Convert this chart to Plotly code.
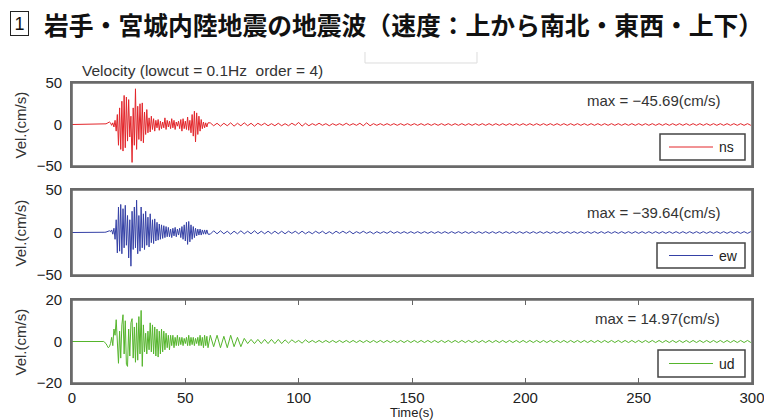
import numpy as np
import plotly.graph_objects as go

# ---------------- data ----------------
x_tickvals = [0, 50, 100, 150, 200, 250, 300]
y_ticks_vel = [-50, 0, 50]
y_ticks_ud = [-20, 0, 20]

quiet_t = [0.0, 5.0, 10.0]
ns_quiet = [0.0, 0.2, -0.2]
ew_quiet = [0.0, -0.2, 0.2]
ud_quiet = [0.0, 0.1, -0.1]

main_t0, main_dt = 14.0, 0.5
ns_main = [0, 0.3, 0.8, 1.5, 2.5, 3, 2, -1, 2, -3,
           5, -8, 12, -25, 20, -30, 28, -32, 35, -28,
           33, -20, 30, -15, 10, -45.69, 20, -25, 43, -30,
           22, -18, 25, -20, 26, -22, 15, -12, 18, -10,
           8, -9, 10, -6, 7, -8, 5, -4, 6, -7,
           4, -5, 3, -4, 8, -6, 5, -3, 4, -5,
           7, -4, 5, -6, 3, -2, 4, -5, 6, -8,
           7, -5, 4, -6, 9, -7, 5, -10, 12, -14,
           16, -21, 14, -12, 10, -8, 6, -5, 3, -4,
           2, -3, 2]
ew_main = [0, 0.3, 0.5, 1, 1.5, 2, 1, 3, -2, 5,
           -8, 15, -24, 30, -22, 33, -25, 28, -18, 32,
           -15, 20, -30, 15, -39.64, 25, -20, 30, -18, 38,
           -25, 20, -22, 30, -18, 22, -20, 25, -15, 18,
           -17, 22, -12, 15, -13, 16, -10, 12, -9, 10,
           -8, 9, -7, 8, -6, 7, -5, 6, -5, 4,
           -6, 5, -4, 6, -5, 4, -3, 5, -6, 7,
           -8, 9, -10, 12, -14, 13, -11, 9, -8, 7,
           -6, 5, -4, 4, -3, 4, -3, 3, -2, 3,
           -2, 3, -2]
ud_main = [0, -0.5, -1, -2, -3, -2.5, -1, 2, -2, 6,
           3, 10.5, -5, -10.5, 5, -8, 8, 12.9, -6, 10,
           -11, -12, 6, -7, 9, 11, -8, 7, -10, 9,
           -9, 12, -6, 14.97, -12, 8, -5, 4, -6, 5,
           -4, 9, -5, 8, -6, 7, -7, 6, -7.5, 5,
           -6, 6, -5, 5, -4, 4, -3, 3, -4, 3,
           -2, 3, -3, 2, -2, 3, -2, 2, -1.5, 2,
           -2, 1.5, -1, 2, -2, 3, -2, 2, -1.5, 2,
           -2, 1.5, -1, 2, -2, 3, -2, 2, -3, 3,
           -2, 2.5, -3]

tail_t0, tail_dt = 61.0, 1.5
ns_tail = [2, -1.5, 1.5, -2, 1.5, -1.5, 2, -2, 1.5, -1.5,
           2, -1.5, 1.5, -2, 1.5, -1, 1.5, -1.5, 1, -1.5,
           1.5, -1.5, 1, -1.5, 1.5, -1, 2.5, -2, 1.5, -1.5,
           1, -1, 1.5, -1, 1, -1.5, 1, -1, 1, -1,
           1.5, -1, 1, -1, 1.5, -1.5, 2, -1.5, 1, -1,
           1, -1, 1, -1, 1, -1, 1, -1, 1, -1,
           1, -1, 1, -1, 1, -1, 1, -1, 1, -1,
           1, -1, 1, -1, 1, -1, 1, -1, 1, -1,
           1, -1, 1, -1, 1, -1, 1, -1, 1, -1,
           1, -1, 1, -1, 1, -1, 1, -1, 1, -1,
           1, -1, 1, -1, 1, -1, 1, -1, 1, -1,
           1, -1, 1, -1, 1, -1, 1, -1, 1, -1,
           1, -1, 1, -1, 1, -1, 1, -1, 1, -1,
           1, -1, 1, -1, 1, -1, 1, -1, 1, -1,
           1, -1, 1, -1, 1, -1, 1, -1, 1, -1,
           1, -1, 1, -1, 1, -1, 1, -1, 1, -1]
ew_tail = [-2, 2, -1.5, 2, -1.5, 1.5, -2, 1.5, -1.5, 2,
           -1.5, 1.5, -1.5, 2, -1.5, 1.5, -1.5, 1.5, -1.5, 1.5,
           -1.5, 1.5, -1.5, 1.5, -1, 1.5, -1.5, 1.5, -1.5, 1,
           -1.5, 1.5, -1, 1.5, -1.5, 1, -1.5, 1.5, -1, 1.5,
           -1, 1.5, -1.5, 1, -1, 1.5, -1, 1, -1.5, 1,
           -1, 1, -1, 1.5, -1, 1, -1, 1, -1, 1,
           -1, 1, -1, 1, -1, 1, -1, 1, -1, 1,
           -1, 1, -1, 1, -1, 1, -1, 1, -1, 1,
           -1, 1, -1, 1, -1, 1, -1, 1, -1, 1,
           -1, 1, -1, 1, -1, 1, -1, 1, -1, 1,
           -1, 1, -1, 1, -1, 1, -1, 1, -1, 1,
           -1, 1, -1, 1, -1, 1, -1, 1, -1, 1,
           -1, 1, -1, 1, -1, 1, -1, 1, -1, 1,
           -1, 1, -1, 1, -1, 1, -1, 1, -1, 1,
           -1, 1, -1, 1, -1, 1, -1, 1, -1, 1,
           -1, 1, -1, 1, -1, 1, -1, 1, -1, 1]
ud_tail = [3, -2.5, 3, -3, 2.5, -3, 3, -2.5, 2, -2.5,
           1.5, -1, 1, -1, 1, -1, 1, -1, 1, -1,
           1, -1, 0.8, -0.8, 0.8, -0.5, 0.5, -0.8, 0.8, -0.5,
           0.5, -0.5, 0.5, -0.5, 0.5, -0.5, 0.5, -0.5, 0.5, -0.5,
           0.5, -0.5, 0.5, -0.5, 0.5, -0.5, 0.5, -0.5, 0.5, -0.5,
           0.5, -0.5, 0.5, -0.5, 0.5, -0.5, 0.5, -0.5, 0.5, -0.5,
           0.5, -0.5, 0.5, -0.5, 0.5, -0.5, 0.5, -0.5, 0.5, -0.5,
           0.5, -0.5, 0.5, -0.5, 0.5, -0.5, 0.5, -0.5, 0.5, -0.5,
           0.5, -0.5, 0.5, -0.5, 0.5, -0.5, 0.5, -0.5, 0.5, -0.5,
           0.5, -0.5, 0.5, -0.5, 0.5, -0.5, 0.5, -0.5, 0.5, -0.5,
           0.5, -0.5, 0.5, -0.5, 0.5, -0.5, 0.5, -0.5, 0.5, -0.5,
           0.5, -0.5, 0.5, -0.5, 0.5, -0.5, 0.5, -0.5, 0.5, -0.5,
           0.5, -0.5, 0.5, -0.5, 0.5, -0.5, 0.5, -0.5, 0.5, -0.5,
           0.5, -0.5, 0.5, -0.5, 0.5, -0.5, 0.5, -0.5, 0.5, -0.5,
           0.5, -0.5, 0.5, -0.5, 0.5, -0.5, 0.5, -0.5, 0.5, -0.5,
           0.5, -0.5, 0.5, -0.5, 0.5, -0.5, 0.5, -0.5, 0.5, -0.5]

series_names = ["ns", "ew", "ud"]
max_labels = ["max = \u221245.69(cm/s)", "max = \u221239.64(cm/s)", "max = 14.97(cm/s)"]

# ---------------- build ----------------
def full(quiet, main, tail):
    t = list(quiet_t)
    t += list(main_t0 + main_dt * np.arange(len(main)))
    t += list(tail_t0 + tail_dt * np.arange(len(tail)))
    return t, list(quiet) + list(main) + list(tail)

colors = ["#e3262b", "#3541a6", "#55b52c"]
data = [full(ns_quiet, ns_main, ns_tail),
        full(ew_quiet, ew_main, ew_tail),
        full(ud_quiet, ud_main, ud_tail)]

fig = go.Figure()
axes = [("x", "y"), ("x2", "y2"), ("x3", "y3")]
for i in range(3):
    t, v = data[i]
    fig.add_trace(go.Scatter(x=t, y=v, mode="lines", name=series_names[i],
                             line=dict(color=colors[i], width=1),
                             xaxis=axes[i][0], yaxis=axes[i][1], showlegend=False))

H0, L0, W0 = 300.0, 72.0, 680.0   # plot area height / left / width in px
def py(px):
    return (383.0 - px) / H0
def px_(x):
    return (x - L0) / W0

frame_col = "#6a6a6a"
frame = dict(showline=True, mirror=True, linecolor=frame_col, linewidth=1.6,
             showgrid=False, zeroline=False, automargin=False)
tickfont = dict(family="Liberation Sans, Arial, sans-serif", size=15, color="#222222")

domains = [[py(166), py(83)], [py(275), py(190)], [py(383), py(300)]]
yranges = [[-50, 50], [-50, 50], [-20, 20]]
ytv = [y_ticks_vel, y_ticks_vel, y_ticks_ud]

layout = dict(width=764, height=420, paper_bgcolor="white", plot_bgcolor="white",
              margin=dict(l=72, r=12, t=83, b=37, autoexpand=False), showlegend=False)
for i in range(3):
    xs = "xaxis" if i == 0 else "xaxis%d" % (i + 1)
    ys = "yaxis" if i == 0 else "yaxis%d" % (i + 1)
    last = (i == 2)
    layout[xs] = dict(frame, domain=[0, 1], range=[0, 300], anchor=axes[i][1],
                      tickvals=x_tickvals, showticklabels=last,
                      ticks="inside" if last else "", ticklen=5, tickcolor="#666666",
                      tickfont=tickfont, ticklabeloverflow="allow")
    if last:
        layout[xs]["mirror"] = "ticks"
    layout[ys] = dict(frame, domain=domains[i], range=yranges[i], anchor=axes[i][0],
                      tickvals=ytv[i], ticks="", tickfont=tickfont, ticklabelstandoff=5,
                      ticklabeloverflow="allow")
fig.update_layout(**layout)

annfont = dict(family="Liberation Sans, Arial, sans-serif", size=15, color="#333333")
ann = []
for i, yy in enumerate([100, 212, 318]):
    ann.append(dict(x=px_(722), y=py(yy), xref="paper", yref="paper", text=max_labels[i],
                    showarrow=False, xanchor="right", yanchor="middle", font=annfont))
for yy in [124.5, 232.5, 341.5]:
    ann.append(dict(x=px_(20), y=py(yy), xref="paper", yref="paper", text="Vel.(cm/s)",
                    showarrow=False, textangle=-90, xanchor="center", yanchor="middle",
                    font=annfont))
ann.append(dict(x=px_(412), y=py(412.5), xref="paper", yref="paper", text="Time(s)",
                showarrow=False, xanchor="center", yanchor="middle",
                font=dict(family="Liberation Sans, Arial", size=13, color="#222")))
ann.append(dict(x=px_(80), y=py(71), xref="paper", yref="paper",
                text="Velocity (lowcut = 0.1Hz\u00a0\u00a0order = 4)",
                showarrow=False, xanchor="left", yanchor="middle",
                font=dict(annfont, size=15.5)))
ann.append(dict(x=px_(42), y=py(24), xref="paper", yref="paper",
                text="<b>岩手・宮城内陸地震の地震波（速度：上から南北・東西・上下）</b>",
                showarrow=False, xanchor="left", yanchor="middle",
                font=dict(family="Noto Sans CJK JP", size=24.8, color="#111111")))
ann.append(dict(x=px_(20), y=py(24), xref="paper", yref="paper", text="1",
                showarrow=False, xanchor="center", yanchor="middle",
                width=15, height=21, borderpad=1,
                bordercolor="#222222", borderwidth=1,
                font=dict(family="Liberation Sans, Arial", size=18, color="#111111")))

# panel frames (explicit, in case mirrored lines are clipped)
for i in range(3):
    fig.add_shape(type="rect", xref="paper", yref="paper", x0=0, x1=1,
                  y0=domains[i][0], y1=domains[i][1],
                  line=dict(color=frame_col, width=1.6), layer="above")

# legend boxes drawn in each panel
leg_boxes = [(660, 134, 160), (657, 243, 268), (658, 350, 377)]
for i, (lx0, ly0, ly1) in enumerate(leg_boxes):
    fig.add_shape(type="rect", xref="paper", yref="paper",
                  x0=px_(lx0), x1=px_(745), y0=py(ly1), y1=py(ly0),
                  line=dict(color="#444444", width=1.5), fillcolor="white", layer="above")
    ym = py((ly0 + ly1) / 2.0)
    fig.add_shape(type="line", xref="paper", yref="paper",
                  x0=px_(669), x1=px_(713), y0=ym, y1=ym,
                  line=dict(color=colors[i], width=1), layer="above")
    ann.append(dict(x=px_(717), y=ym, xref="paper", yref="paper", text=series_names[i],
                    showarrow=False, xanchor="left", yanchor="middle",
                    font=dict(family="Liberation Sans, Arial", size=14, color="#222")))
fig.update_layout(annotations=ann)

fig.add_shape(type="path", xref="paper", yref="paper",
              path="M %f,%f L %f,%f L %f,%f L %f,%f" % (px_(365), py(52), px_(365), py(63),
                                                        px_(477), py(63), px_(477), py(52)),
              line=dict(color="#dddddd", width=1))

fig.write_html("out.html", config={"displayModeBar": False},
               post_script="document.body.style.margin='0';document.body.style.padding='0';")
